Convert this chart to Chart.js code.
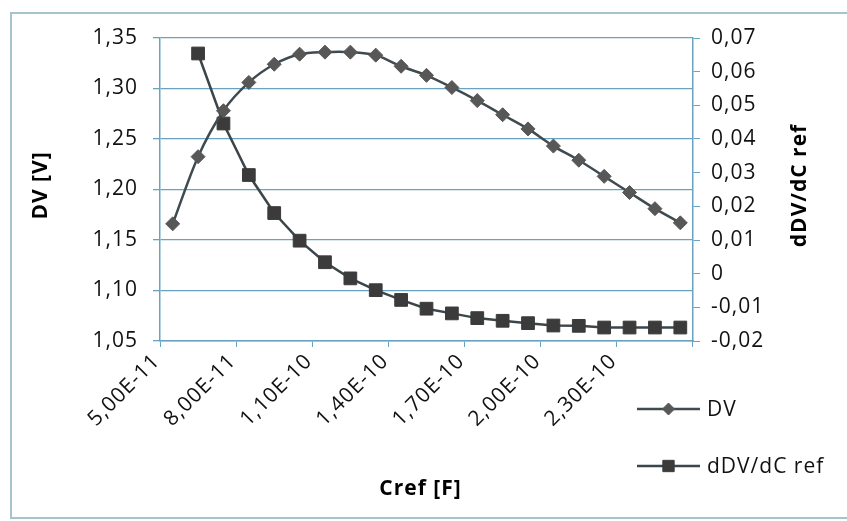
<!DOCTYPE html>
<html>
<head>
<meta charset="utf-8">
<script src="https://cdn.jsdelivr.net/npm/chart.js@4/dist/chart.umd.min.js"></script>
<style>
  html, body { margin: 0; padding: 0; background: #fff; overflow: hidden; width: 847px; height: 521px; }
  #frame {
    position: absolute; left: 10px; top: 12px;
    width: 837px; height: 503px;
    border: 2px solid #a6c4cc;
    border-right: none;
  }
  #c { position: absolute; left: 0; top: 0; }
</style>
</head>
<body>
<div id="frame"></div>
<canvas id="c" width="847" height="521"></canvas>
<script>
// === Data ===
const crefValues = [5e-11, 6e-11, 7e-11, 8e-11, 9e-11, 1e-10, 1.1e-10, 1.2e-10, 1.3e-10, 1.4e-10, 1.5e-10,
  1.6e-10, 1.7e-10, 1.8e-10, 1.9e-10, 2e-10, 2.1e-10, 2.2e-10, 2.3e-10, 2.4e-10, 2.5e-10];
const dvValues = [1.166, 1.2325, 1.278, 1.306, 1.324, 1.334, 1.336, 1.336, 1.333, 1.322, 1.313,
  1.301, 1.288, 1.274, 1.260, 1.243, 1.229, 1.213, 1.197, 1.181, 1.167];
const dDvValues = [null, 0.0654, 0.0446, 0.0293, 0.0180, 0.0098, 0.0034, -0.0014, -0.0049, -0.0078, -0.0104,
  -0.0118, -0.0132, -0.0140, -0.0147, -0.0154, -0.0155, -0.0160, -0.0160, -0.0160, -0.0160];
const labelEvery = 3; // a category label every 3rd point

// "5,00E-11" style labels
function sci(v) {
  const [m, e] = v.toExponential(2).split('e');
  return m.replace('.', ',') + 'E' + (e[0] === '+' ? e.slice(1) : e);
}
const crefLabels = crefValues.map(sci);

const AXIS = '#6aa3bf';
const TXT = '#111';
const FONT = "'Open Sans', sans-serif";

// === Titles + legend drawn on the canvas ===
const extras = {
  id: 'extras',
  beforeLayout(chart) { chart.ctx.letterSpacing = '1px'; },
  beforeDraw(chart) { chart.ctx.letterSpacing = '1px'; },
  afterDraw(chart) {
    const { ctx, chartArea: a } = chart;
    ctx.save();
    ctx.fillStyle = '#000';
    ctx.font = 'bold 21px ' + FONT;
    ctx.textAlign = 'center';
    ctx.textBaseline = 'middle';
    const midY = (a.top + a.bottom) / 2 - 4;
    // left title
    ctx.save(); ctx.translate(41, midY); ctx.rotate(-Math.PI / 2); ctx.fillText('DV [V]', 0, 0); ctx.restore();
    // right title (reads upward like the original)
    ctx.save(); ctx.translate(a.right + 107, midY); ctx.rotate(-Math.PI / 2); ctx.fillText('dDV/dC ref', 0, 0); ctx.restore();
    // x title
    ctx.fillText('Cref [F]', (a.left + a.right) / 2 - 6, a.bottom + 148);

    // legend, stacked at bottom right
    ctx.font = '21px ' + FONT;
    ctx.textAlign = 'left';
    chart.data.datasets.forEach((ds, i) => {
      const y = a.bottom + 68 + i * 57;
      const x0 = a.right - 56, x1 = a.right + 7;
      ctx.strokeStyle = ds.borderColor;
      ctx.lineWidth = 2.5;
      ctx.beginPath(); ctx.moveTo(x0, y); ctx.lineTo(x1, y); ctx.stroke();
      ctx.fillStyle = ds.pointBackgroundColor;
      ctx.strokeStyle = ds.pointBorderColor;
      ctx.lineWidth = 1;
      Chart.helpers.drawPoint(ctx, {
        pointStyle: ds.pointStyle, radius: ds.pointRadius - 1, rotation: 0, borderWidth: 1
      }, (x0 + x1) / 2, y);
      ctx.fillStyle = TXT;
      ctx.fillText(ds.label, x1 + 7, y + 1);
    });
    ctx.restore();
  }
};

new Chart(document.getElementById('c'), {
  type: 'line',
  data: {
    labels: crefLabels,
    datasets: [
      {
        label: 'DV', data: dvValues, yAxisID: 'y',
        borderColor: '#3f4b51', borderWidth: 2.5, tension: 0.3,
        pointStyle: 'rectRot', pointRadius: 7,
        pointBackgroundColor: '#575757', pointBorderColor: '#575757', pointBorderWidth: 1
      },
      {
        label: 'dDV/dC ref', data: dDvValues, yAxisID: 'y1',
        borderColor: '#3a464b', borderWidth: 2.5, tension: 0,
        pointStyle: 'rect', pointRadius: 9,
        pointBackgroundColor: '#3b3b3b', pointBorderColor: '#3b3b3b', pointBorderWidth: 1
      }
    ]
  },
  options: {
    responsive: false,
    animation: false,
    layout: { padding: { top: 38, left: 0, right: 0, bottom: 0 } },
    plugins: { legend: { display: false }, tooltip: { enabled: false } },
    scales: {
      x: {
        offset: true,
        afterFit: s => { s.height = 180; },
        border: { color: AXIS, width: 1.5 },
        grid: {
          offset: true, drawOnChartArea: false, tickLength: 6,
          tickColor: c => (c.index === undefined || c.index % labelEvery === 0) ? AXIS : 'rgba(0,0,0,0)'
        },
        ticks: {
          autoSkip: false, maxRotation: 45, minRotation: 45, padding: 2,
          labelOffset: -16,
          color: TXT, font: { family: FONT, size: 21 },
          callback: (v, i) => i % labelEvery === 0 ? crefLabels[i] : ''
        }
      },
      y: {
        position: 'left', min: 1.05, max: 1.35,
        afterFit: s => { s.width = 160; },
        border: { color: AXIS, width: 1.5 },
        grid: { color: AXIS, lineWidth: 1.3, tickLength: 7 },
        ticks: {
          stepSize: 0.05, padding: 15, color: TXT, font: { family: FONT, size: 21 },
          callback: v => v.toFixed(2).replace('.', ',')
        }
      },
      y1: {
        position: 'right', min: -0.02, max: 0.07,
        afterFit: s => { s.width = 154; },
        border: { color: AXIS, width: 1.5 },
        grid: { drawOnChartArea: false, color: AXIS, tickLength: 7 },
        ticks: {
          stepSize: 0.01, padding: 11, color: TXT, font: { family: FONT, size: 21 },
          callback: v => Math.abs(v) < 1e-9 ? '0' : v.toFixed(2).replace('.', ',')
        }
      }
    }
  },
  plugins: [extras]
});
</script>
</body>
</html>
